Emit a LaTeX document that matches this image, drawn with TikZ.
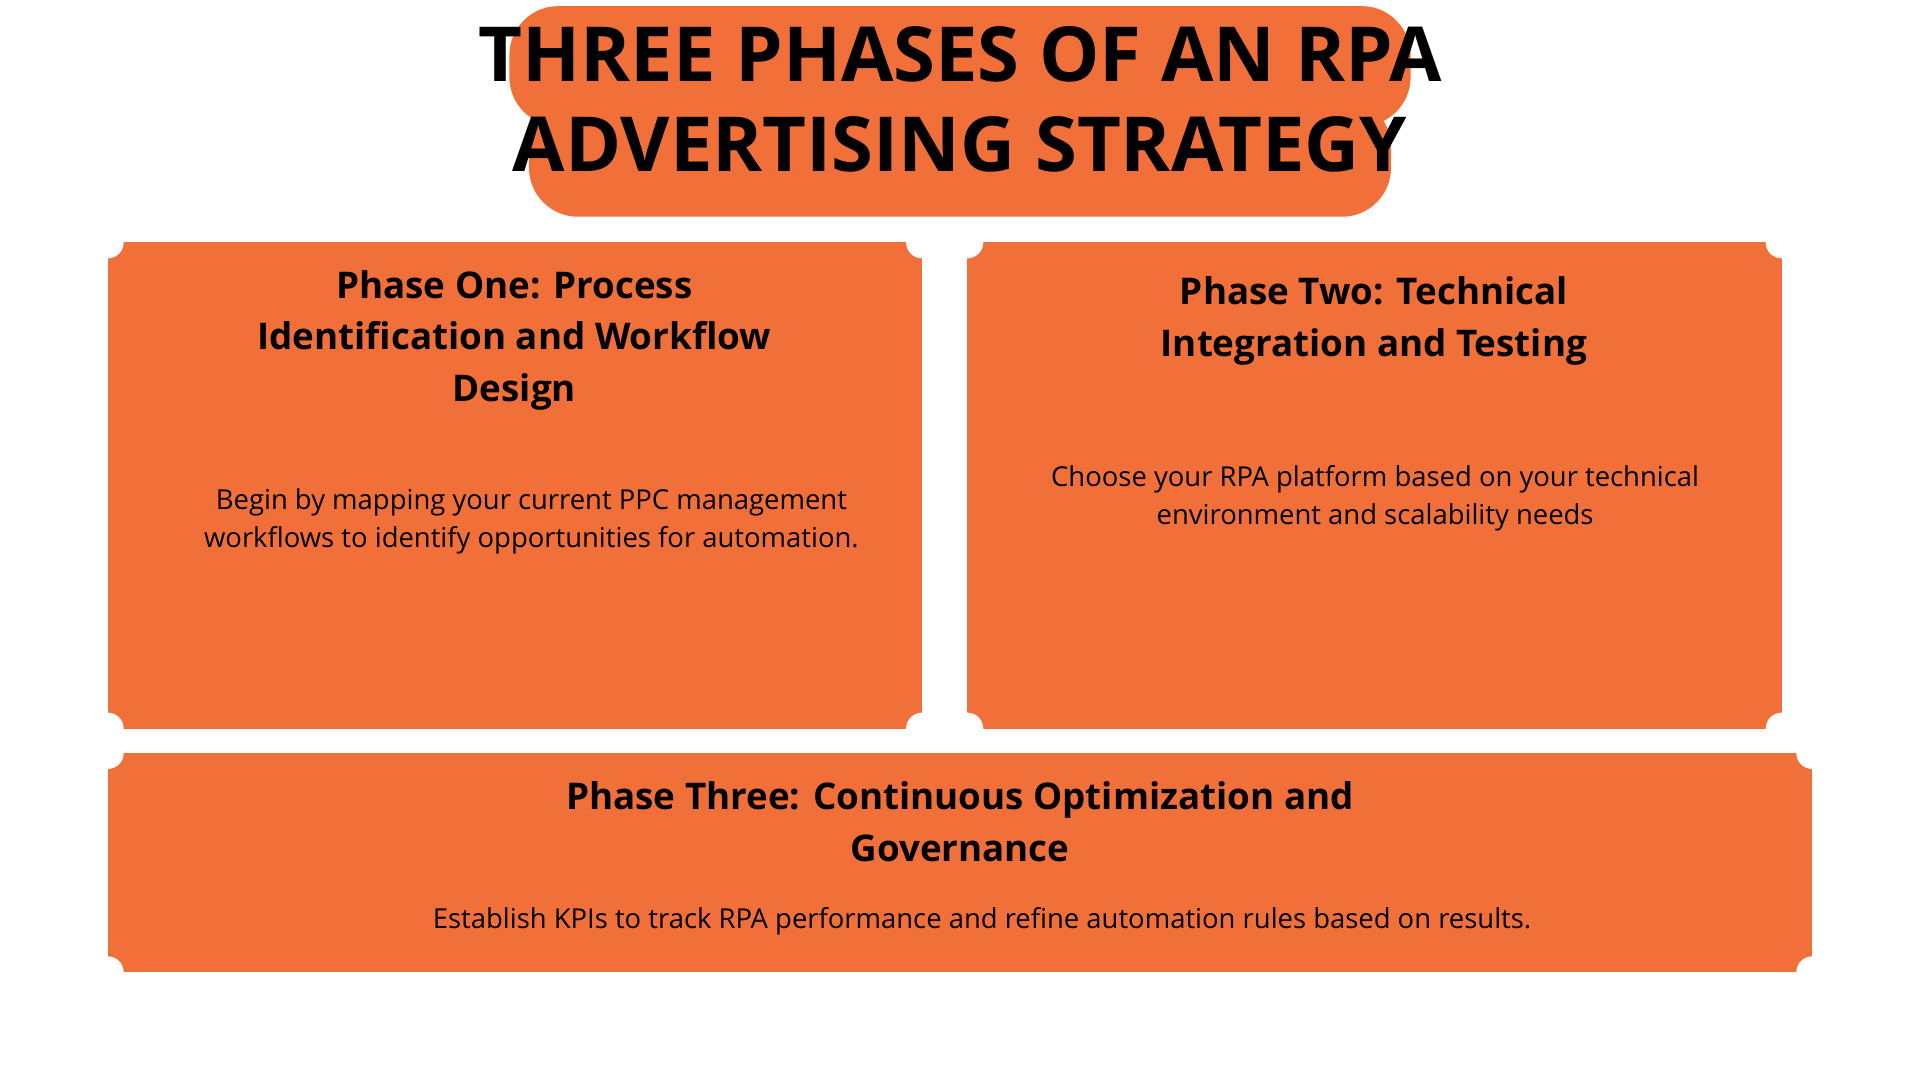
\documentclass[tikz,border=0pt]{standalone}
\usepackage{fontspec}
\setmainfont{Open Sans}
\usetikzlibrary{positioning}
\definecolor{rpaorange}{HTML}{F1703A}
\newcommand{\ticketbox}[4]{%
  \fill[rpaorange] (#1,#2) rectangle (#3,#4);
  \foreach \cx/\cy in {#1/#2,#3/#2,#1/#4,#3/#4}
    \fill[white] (\cx,\cy) circle (13);
}
\tikzset{
  title/.style={font=\fontsize{31}{37}\selectfont\bfseries, align=center},
  head/.style={font=\fontsize{15}{21}\selectfont\bfseries, align=center},
  body/.style={font=\fontsize{11.2}{15.5}\selectfont, align=center}
}
\begin{document}
\begin{tikzpicture}[x=0.5pt,y=-0.5pt]
  \useasboundingbox[fill=white] (0,0) rectangle (1568,882);
  % title plate
  \fill[rpaorange, rounded corners=20] (416,5) rectangle (1152,103);
  \fill[rpaorange, rounded corners=20] (432,80) rectangle (1136,177);
  \node[title] (title) at (784,92) {THREE PHASES OF AN RPA\\ADVERTISING STRATEGY\strut};
  % phase cards
  \ticketbox{88}{198}{753}{595}
  \ticketbox{790}{198}{1455}{595}
  \ticketbox{88}{615}{1480}{794}
  \node[head] (oneh) at (420,278) {Phase One: Process\\Identification and Workflow\\Design};
  \node[body] (oneb) at (434,426) {Begin by mapping your current PPC management\\workflows to identify opportunities for automation.};
  \node[head] (twoh) at (1122,262) {Phase Two: Technical\\Integration and Testing};
  \node[body] (twob) at (1123,407) {Choose your RPA platform based on your technical\\environment and scalability needs};
  \node[head] (threeh) at (784,671) {Phase Three: Continuous Optimization and\\Governance};
  \node[body, font=\fontsize{11.2}{15.5}\selectfont\addfontfeature{}] (threeb) at (802,752) {Establish KPIs to track RPA performance and refine automation rules based on results.};
\end{tikzpicture}
\end{document}
